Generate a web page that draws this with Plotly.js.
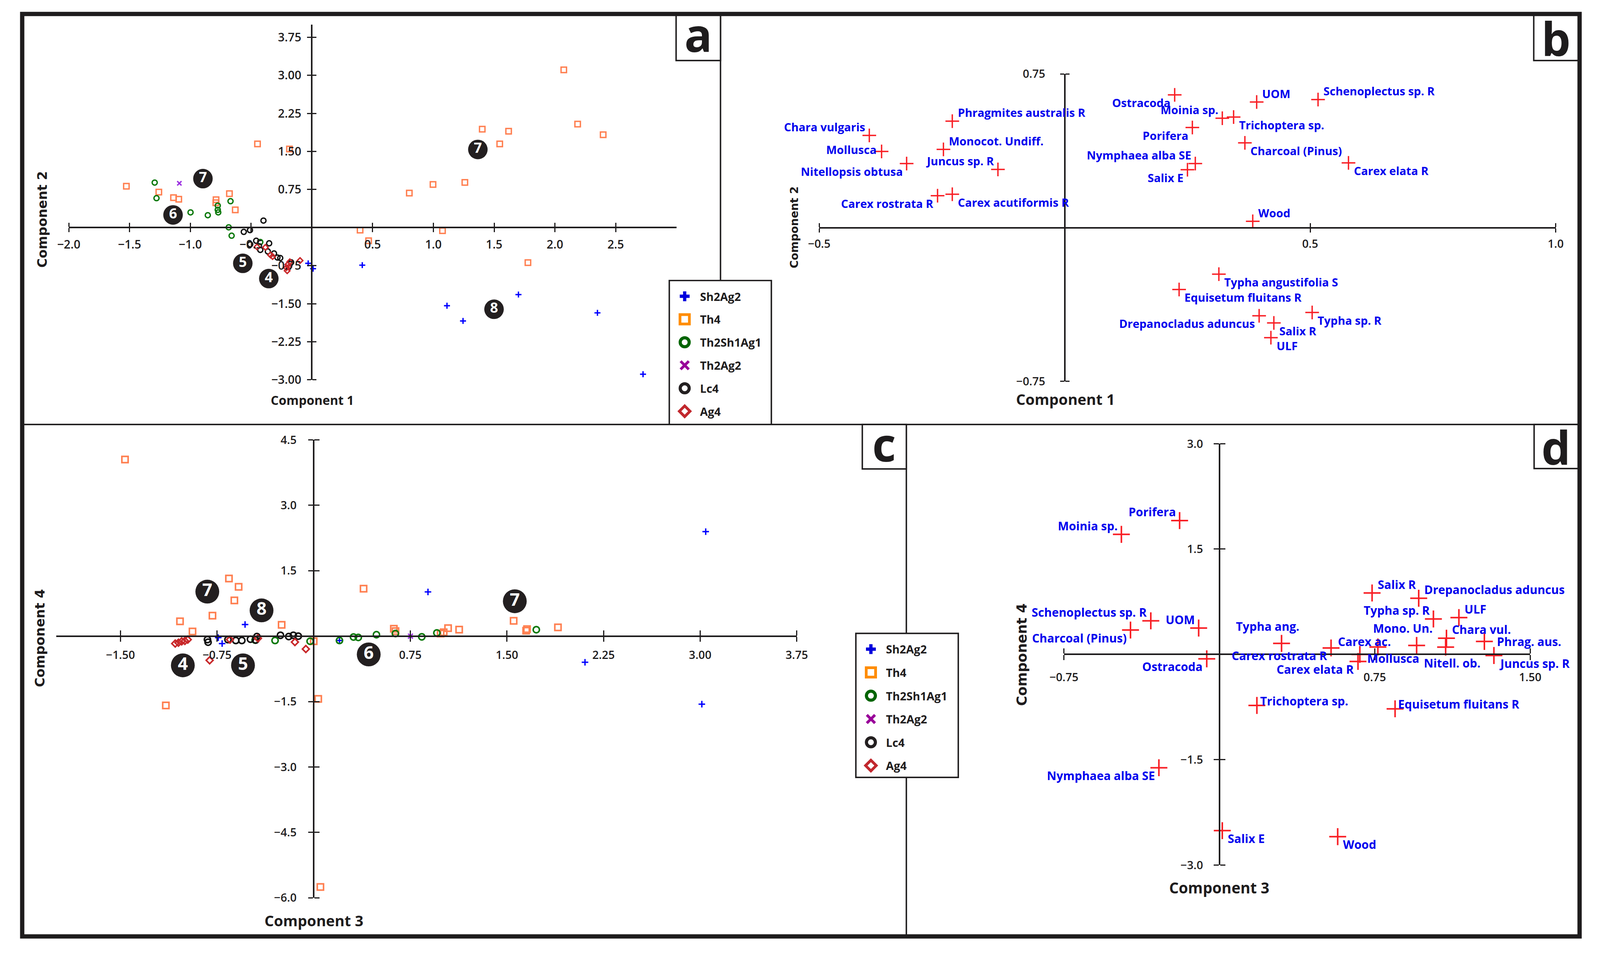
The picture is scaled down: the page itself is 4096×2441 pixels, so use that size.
<!DOCTYPE html>
<html><head><meta charset="utf-8">
<script src="https://cdn.plot.ly/plotly-3.0.1.min.js"></script>
<style>html,body{margin:0;padding:0;background:#fff;}#chart{width:4096px;height:2441px;}</style>
</head><body><div id="chart"></div>
<script>
// ================= DATA =================
const seriesNames = ['Sh2Ag2','Th4','Th2Sh1Ag1','Th2Ag2','Lc4','Ag4'];

// ---- Panel a : Component 1 (x) vs Component 2 (y) ----
const a_Sh2Ag2_x = [-0.03, 0.01, 0.415, 1.112, 1.244, 1.70, 2.35, 2.725];
const a_Sh2Ag2_y = [-0.705, -0.81, -0.74, -1.54, -1.84, -1.32, -1.68, -2.89];
const a_Th4_x = [2.073, 2.187, 2.397, 1.402, 1.619, 1.546, 1.259, 0.997, 0.802, 0.397, 1.075, 0.467, 1.778, -0.447, -0.184, -1.526, -1.259, -1.138, -1.095, -0.788, -0.79, -0.678, -0.63];
const a_Th4_y = [3.11, 2.04, 1.83, 1.94, 1.90, 1.65, 0.89, 0.85, 0.68, -0.05, -0.06, -0.26, -0.69, 1.65, 1.55, 0.816, 0.70, 0.59, 0.56, 0.55, 0.49, 0.67, 0.35];
const a_Th2Sh1Ag1_x = [-1.293, -1.278, -0.998, -0.856, -0.774, -0.774, -0.77, -0.669, -0.684, -0.66, -0.424];
const a_Th2Sh1Ag1_y = [0.887, 0.58, 0.30, 0.244, 0.433, 0.35, 0.30, 0.52, 0.005, -0.16, -0.285];
const a_Th2Ag2_x = [-1.09];
const a_Th2Ag2_y = [0.873];
const a_Lc4_x = [-0.398, -0.56, -0.509, -0.507, -0.458, -0.424, -0.351, -0.362, -0.311, -0.283, -0.26, -0.17];
const a_Lc4_y = [0.138, -0.085, -0.05, -0.33, -0.26, -0.44, -0.31, -0.47, -0.51, -0.59, -0.60, -0.685];
const a_Ag4_x = [-0.451, -0.382, -0.34, -0.323, -0.181, -0.198, -0.209, -0.203, -0.19, -0.097];
const a_Ag4_y = [-0.38, -0.39, -0.54, -0.57, -0.674, -0.73, -0.79, -0.85, -0.78, -0.65];
const a_groupLabels = ['7','6','5','4','7','8'];
const a_groupX = [-0.896, -1.142, -0.568, -0.354, 1.366, 1.499];
const a_groupY = [0.965, 0.25, -0.705, -1.005, 1.54, -1.61];

// ---- Panel c : Component 3 (x) vs Component 4 (y) ----
const c_Sh2Ag2_x = [-0.741, -0.711, -0.533, 0.2, 0.887, 2.106, 3.043, 3.013];
const c_Sh2Ag2_y = [-0.035, -0.17, 0.266, -0.1, 1.013, -0.60, 2.395, -1.56];
const c_Th4_x = [-1.465, -1.148, -1.038, -0.941, -0.786, -0.658, -0.583, -0.616, -0.249, 0.0, 0.035, 0.052, 0.387, 0.622, 0.635, 1.009, 1.043, 1.129, 0.985, 1.552, 1.649, 1.656, 1.896];
const c_Th4_y = [4.05, -1.59, 0.34, 0.107, 0.47, 1.32, 1.13, 0.82, 0.26, -0.117, -1.44, -5.75, 1.087, 0.17, 0.115, 0.088, 0.184, 0.15, 0.06, 0.35, 0.125, 0.16, 0.20];
const c_Th2Sh1Ag1_x = [-0.455, -0.3, -0.028, 0.2, 0.309, 0.346, 0.487, 0.634, 0.839, 0.956, 1.728];
const c_Th2Sh1Ag1_y = [-0.09, -0.1, -0.117, -0.1, -0.02, -0.03, 0.033, 0.06, -0.016, 0.074, 0.148];
const c_Th2Ag2_x = [0.751];
const c_Th2Ag2_y = [0.0];
const c_Lc4_x = [-0.825, -0.82, -0.666, -0.605, -0.558, -0.491, -0.441, -0.258, -0.194, -0.158, -0.12, -0.45];
const c_Lc4_y = [-0.08, -0.14, -0.08, -0.1, -0.1, -0.07, -0.01, 0.02, -0.01, 0.02, 0.0, -0.09];
const c_Ag4_x = [-1.075, -1.05, -1.025, -1.0, -0.978, -0.808, -0.65, -0.433, -0.146, -0.061];
const c_Ag4_y = [-0.17, -0.15, -0.12, -0.11, -0.08, -0.555, -0.08, -0.05, -0.136, -0.296];
const c_groupLabels = ['7','8','4','5','6','7'];
const c_groupX = [-0.826, -0.405, -1.016, -0.549, 0.427, 1.561];
const c_groupY = [1.02, 0.59, -0.67, -0.67, -0.42, 0.80];

// ---- Panel b : variable loadings, Component 1 vs Component 2 ----
const b_names = ['Ostracoda','UOM','Schenoplectus sp. R','Phragmites australis R','Moinia sp.','Trichoptera sp.','Porifera','Chara vulgaris','Monocot. Undiff.','Mollusca','Charcoal (Pinus)','Nymphaea alba SE','Salix E','Nitellopsis obtusa','Juncus sp. R','Carex elata R','Carex rostrata R','Carex acutiformis R','Wood','Typha angustifolia S','Equisetum fluitans R','Drepanocladus aduncus','Typha sp. R','Salix R','ULF'];
const b_x = [0.224, 0.391, 0.516, -0.229, 0.321, 0.344, 0.26, -0.398, -0.247, -0.373, 0.367, 0.266, 0.25, -0.322, -0.136, 0.578, -0.259, -0.229, 0.383, 0.314, 0.233, 0.396, 0.504, 0.426, 0.42];
const b_y = [0.648, 0.613, 0.625, 0.52, 0.534, 0.54, 0.489, 0.45, 0.382, 0.372, 0.414, 0.313, 0.283, 0.313, 0.284, 0.316, 0.156, 0.163, 0.031, -0.227, -0.302, -0.43, -0.414, -0.465, -0.537];

// ---- Panel d : variable loadings, Component 3 vs Component 4 ----
const d_names = ['Porifera','Moinia sp.','Salix R','Drepanocladus aduncus','Schenoplectus sp. R','UOM','Charcoal (Pinus)','Typha sp. R','ULF','Typha ang.','Carex rostrata R','Carex ac.','Mollusca','Carex elata R','Mono. Un.','Chara vul.','Nitell. ob.','Phrag. aus.','Juncus sp. R','Ostracoda','Trichoptera sp.','Equisetum fluitans R','Nymphaea alba SE','Salix E','Wood'];
const d_x = [-0.192, -0.473, 0.737, 0.962, -0.331, -0.1, -0.429, 1.033, 1.156, 0.30, 0.539, 0.765, 0.678, 0.669, 0.952, 1.096, 1.092, 1.279, 1.325, -0.061, 0.181, 0.848, -0.292, 0.014, 0.571];
const d_y = [1.906, 1.71, 0.875, 0.80, 0.478, 0.375, 0.347, 0.505, 0.524, 0.157, 0.092, 0.106, 0.0, -0.10, 0.128, 0.231, 0.104, 0.184, -0.016, -0.063, -0.727, -0.775, -1.614, -2.51, -2.596];

// ---- tick values ----
const a_xticks = [-2, -1.5, -1, -0.5, 0.5, 1, 1.5, 2, 2.5];
const a_yticks = [3.75, 3, 2.25, 1.5, 0.75, -0.75, -1.5, -2.25, -3];
const b_xticks = [-0.5, 0.5, 1.0];
const b_yticks = [0.75, -0.75];
const c_xticks = [-1.5, -0.75, 0.75, 1.5, 2.25, 3, 3.75];
const c_yticks = [4.5, 3, 1.5, -1.5, -3, -4.5, -6];
const d_xticks = [-0.75, 0.75, 1.5];
const d_yticks = [3, 1.5, -1.5, -3];

// ================= LAYOUT / STYLE =================
const RW = 4468, RH = 2663;            // reference pixel frame
const fx = p => p / RW;
const fy = p => 1 - p / RH;
const INK = '#1e1c1d';
const BLUE = '#0000ee';
const RED = '#f81e24';
const FONT = 'Open Sans';

// label placement codes (window px)
const OFF = {
  tl:{xa:'right', dx:-8,  dy:22}, tr:{xa:'left', dx:12, dy:22},
  bl:{xa:'right', dx:-8,  dy:-20}, br:{xa:'left', dx:12, dy:-20},
  ml:{xa:'right', dx:-11, dy:5},  mr:{xa:'left', dx:30, dy:0},
  ur:{xa:'left',  dx:6,   dy:12}, lr:{xa:'left', dx:17, dy:-10},
  tc:{xa:'center',dx:-36, dy:44}, tn:{xa:'center', dx:-34, dy:14},
  bc:{xa:'center', dx:17, dy:-41}
};
const b_pos = ['bl','tr','tr','tr','tl','br','bl','tl','tr','ml','br','tl','bl','bl','tl','br','bl','br','tr','br','br','bl','br','br','br'];
const d_pos = ['tl','tl','tr','tr','tl','tl','bl','tl','tr','tc','bl','tn','lr','bl','tc','tr','bc','mr','br','bl','ur','ur','bl','br','br'];

// panel geometry in reference pixels
const geom = {
  a:{xr:[-2,3], yr:[-3,4], x0:192, x1:1889, y0:1060.1, y1:68.9, xt:a_xticks, xf:'.1f', yt:a_yticks, yf:'.2f', tlo:10, tli:10, xso:6, yso:9, tfs:30},
  b:{xr:[-0.5,1], yr:[-0.75,0.75], x0:2287.7, x1:4344.2, y0:1064.5, y1:206.5, xt:b_xticks, xf:'.1f', yt:b_yticks, yf:'.2f', tlo:10, tli:10, xso:5, yso:32, tfs:29},
  c:{xr:[-2,3.75], yr:[-6,4.5], x0:156.6, x1:2225, y0:2506.2, y1:1227.8, xt:c_xticks, xf:'.2f', yt:c_yticks, yf:'.1f', tlo:12, tli:13, xso:10, yso:24, tfs:29},
  d:{xr:[-0.75,1.5], yr:[-3,3], x0:2971.2, x1:4273, y0:2414.7, y1:1238.7, xt:d_xticks, xf:'.2f', yt:d_yticks, yf:'.1f', tlo:13, tli:13, xso:19, yso:21, tfs:29}
};

const layout = {
  width:4096, height:2441, margin:{l:0,r:0,t:0,b:0,pad:0},
  paper_bgcolor:'#ffffff', plot_bgcolor:'rgba(0,0,0,0)',
  showlegend:false, font:{family:FONT, color:INK},
  shapes:[], annotations:[]
};

function addAxes(g, idx) {
  const sfx = idx === 1 ? '' : String(idx);
  const xd = [fx(g.x0), fx(g.x1)];
  const yd = [fy(g.y0), fy(g.y1)];
  const xPos = yd[0] + (0 - g.yr[0]) / (g.yr[1] - g.yr[0]) * (yd[1] - yd[0]);
  const yPos = xd[0] + (0 - g.xr[0]) / (g.xr[1] - g.xr[0]) * (xd[1] - xd[0]);
  const tf = {family:FONT, size:g.tfs, color:INK, weight:600};
  const base = {anchor:'free', showgrid:false, zeroline:false, showline:true, linecolor:INK, linewidth:4,
    ticks:'outside', tickcolor:INK, tickwidth:3, tickmode:'array', fixedrange:true, tickfont:tf, title:{text:''}};
  layout['xaxis' + sfx] = Object.assign({}, base, {domain:xd, range:g.xr, position:xPos, tickvals:g.xt, tickformat:g.xf,
    ticklen:g.tlo, ticklabelstandoff:g.xso,
    minor:{ticks:'inside', tickmode:'array', tickvals:g.xt.map(v => v + 1e-9), ticklen:g.tli, tickwidth:3, tickcolor:INK}});
  layout['yaxis' + sfx] = Object.assign({}, base, {domain:yd, range:g.yr, position:yPos, tickvals:g.yt, tickformat:g.yf,
    ticklen:g.tlo, ticklabelstandoff:g.yso,
    minor:{ticks:'inside', tickmode:'array', tickvals:g.yt.map(v => v + 1e-9), ticklen:g.tli, tickwidth:3, tickcolor:INK}});
  return {x:'x' + sfx, y:'y' + sfx};
}

const ax = {a:addAxes(geom.a,1), b:addAxes(geom.b,2), c:addAxes(geom.c,3), d:addAxes(geom.d,4)};

// ---- marker styles ----
const styleA = {
  Sh2Ag2:{symbol:'cross-thin-open', color:'#0000ff', size:11, lw:3.5},
  Th4:{symbol:'square-open', color:'#ff7f50', size:14, lw:3.5},
  Th2Sh1Ag1:{symbol:'circle-open', color:'#0a780a', size:13, lw:3.5},
  Th2Ag2:{symbol:'x-thin-open', color:'#9b30e0', size:11, lw:3.5},
  Lc4:{symbol:'circle-open', color:'#111111', size:13, lw:3.5},
  Ag4:{symbol:'diamond-open', color:'#c8282a', size:11, lw:3.5}
};
const styleC = {
  Sh2Ag2:{symbol:'cross-thin-open', color:'#0000ff', size:12, lw:3.5},
  Th4:{symbol:'square-open', color:'#ff7f50', size:16, lw:4},
  Th2Sh1Ag1:{symbol:'circle-open', color:'#0a780a', size:16, lw:4},
  Th2Ag2:{symbol:'x-thin-open', color:'#9b30e0', size:12.5, lw:3.5},
  Lc4:{symbol:'circle-open', color:'#111111', size:16, lw:4},
  Ag4:{symbol:'diamond-open', color:'#c8282a', size:13.5, lw:4}
};
const styleLegend = {
  Sh2Ag2:{symbol:'cross', color:'#0000dd', size:21, lw:0},
  Th4:{symbol:'square-open', color:'#ff8c00', size:24, lw:7},
  Th2Sh1Ag1:{symbol:'circle-open', color:'#006400', size:23, lw:8},
  Th2Ag2:{symbol:'x-thin-open', color:'#990099', size:21, lw:7},
  Lc4:{symbol:'circle-open', color:'#231f20', size:23, lw:8},
  Ag4:{symbol:'diamond-open', color:'#c1272d', size:21, lw:7}
};

const traces = [];
function markerOf(st) {
  return {symbol:st.symbol, color:st.color, size:st.size, line:{color:st.color, width:st.lw}};
}
function addSeries(prefix, st, axp) {
  const src = {a:{Sh2Ag2:[a_Sh2Ag2_x,a_Sh2Ag2_y], Th4:[a_Th4_x,a_Th4_y], Th2Sh1Ag1:[a_Th2Sh1Ag1_x,a_Th2Sh1Ag1_y], Th2Ag2:[a_Th2Ag2_x,a_Th2Ag2_y], Lc4:[a_Lc4_x,a_Lc4_y], Ag4:[a_Ag4_x,a_Ag4_y]},
               c:{Sh2Ag2:[c_Sh2Ag2_x,c_Sh2Ag2_y], Th4:[c_Th4_x,c_Th4_y], Th2Sh1Ag1:[c_Th2Sh1Ag1_x,c_Th2Sh1Ag1_y], Th2Ag2:[c_Th2Ag2_x,c_Th2Ag2_y], Lc4:[c_Lc4_x,c_Lc4_y], Ag4:[c_Ag4_x,c_Ag4_y]}}[prefix];
  seriesNames.forEach(n => {
    traces.push({type:'scatter', mode:'markers', name:n, x:src[n][0], y:src[n][1], xaxis:axp.x, yaxis:axp.y,
      marker:markerOf(st[n]), cliponaxis:false, hoverinfo:'skip'});
  });
}
addSeries('a', styleA, ax.a);
addSeries('c', styleC, ax.c);

function addGroups(lbl, xs, ys, axp, size, fs) {
  traces.push({type:'scatter', mode:'markers+text', x:xs, y:ys, text:lbl, xaxis:axp.x, yaxis:axp.y,
    textposition:'middle center', cliponaxis:false, hoverinfo:'skip',
    marker:{symbol:'circle', size:size, color:'#231f20', line:{width:0}},
    textfont:{family:FONT, size:fs, color:'#ffffff', weight:700}});
}
addGroups(a_groupLabels, a_groupX, a_groupY, ax.a, 50, 36);
addGroups(c_groupLabels, c_groupX, c_groupY, ax.c, 61, 45);

// loadings crosses
traces.push({type:'scatter', mode:'markers', x:b_x, y:b_y, xaxis:ax.b.x, yaxis:ax.b.y, cliponaxis:false, hoverinfo:'skip',
  marker:{symbol:'cross-thin-open', size:25, color:RED, line:{color:RED, width:3.5}}});
traces.push({type:'scatter', mode:'markers', x:d_x, y:d_y, xaxis:ax.d.x, yaxis:ax.d.y, cliponaxis:false, hoverinfo:'skip',
  marker:{symbol:'cross-thin-open', size:31, color:RED, line:{color:RED, width:4}}});

function labelAnns(names, xs, ys, pos, axp, fs) {
  names.forEach((t, i) => {
    const o = OFF[pos[i]];
    layout.annotations.push({xref:axp.x, yref:axp.y, x:xs[i], y:ys[i], text:t, showarrow:false,
      xanchor:o.xa, yanchor:'middle', xshift:o.dx, yshift:o.dy,
      font:{family:FONT, size:fs, color:BLUE, weight:700}});
  });
}
labelAnns(b_names, b_x, b_y, b_pos, ax.b, 29);
labelAnns(d_names, d_x, d_y, d_pos, ax.d, 30);

// ---- axis titles (placed at the axis origin, as in the reference) ----
function title(text, px, py, size, vertical) {
  layout.annotations.push({xref:'paper', yref:'paper', x:fx(px), y:fy(py), text:text, showarrow:false,
    xanchor:'center', yanchor:'middle', textangle:vertical ? -90 : 0,
    font:{family:vertical ? 'DejaVu Sans' : FONT, size:size, color:INK, weight:700}});
}
title('Component 1', 872, 1117, 32, false);
title('Component 2', 119, 613, 33, true);
title('Component 1', 2975, 1114, 38, false);
title('Component 2', 2218, 634, 28, true);
title('Component 3', 876, 2569, 38, false);
title('Component 4', 112, 1781, 33.5, true);
title('Component 3', 3404, 2478, 38.5, false);
title('Component 4', 2853, 1827, 35, true);

// ---- frame, dividers, panel letter boxes ----
function line(x0, y0, x1, y1, w) {
  layout.shapes.push({type:'line', xref:'paper', yref:'paper', x0:fx(x0), y0:fy(y0), x1:fx(x1), y1:fy(y1),
    line:{color:INK, width:w}, layer:'below'});
}
function rect(x0, y0, x1, y1, w, fill) {
  layout.shapes.push({type:'rect', xref:'paper', yref:'paper', x0:fx(x0), y0:fy(y0), x1:fx(x1), y1:fy(y1),
    line:{color:INK, width:w}, fillcolor:fill || 'rgba(0,0,0,0)', layer:'below'});
}
line(62, 1185, 4411, 1185, 3.7);
line(2012, 39, 2012, 1185, 3.7);
line(2531, 1185, 2531, 2614, 3.7);
rect(1888, 39, 2012, 169, 3.7, '#ffffff');
rect(4283, 39, 4411, 169, 3.7, '#ffffff');
rect(2408, 1185, 2531, 1309, 3.7, '#ffffff');
rect(4284, 1185, 4411, 1308, 3.7, '#ffffff');
rect(62, 39, 4411, 2614, 11, null);

const panelLetters = [['a',1950,104,8],['b',4345,106,0],['c',2469,1247,8],['d',4345,1247,0]];
panelLetters.forEach(p => {
  layout.annotations.push({xref:'paper', yref:'paper', x:fx(p[1]), y:fy(p[2]), text:p[0], showarrow:false,
    xanchor:'center', yanchor:'middle', yshift:p[3], font:{family:FONT, size:118, color:INK, weight:700}});
});

// ---- custom legends (one per sample panel) ----
function addLegend(box, firstY, stepY, markX, textX, idx) {
  rect(box[0], box[1], box[2], box[3], 3.7, '#ffffff');
  const sfx = String(idx);
  layout['xaxis' + sfx] = {domain:[fx(box[0]), fx(box[2])], range:[box[0], box[2]], visible:false, fixedrange:true, anchor:'y' + sfx};
  layout['yaxis' + sfx] = {domain:[fy(box[3]), fy(box[1])], range:[box[3], box[1]], visible:false, fixedrange:true, anchor:'x' + sfx};
  seriesNames.forEach((n, i) => {
    const yy = firstY + i * stepY;
    traces.push({type:'scatter', mode:'markers', x:[markX], y:[yy], xaxis:'x' + sfx, yaxis:'y' + sfx,
      marker:markerOf(styleLegend[n]), cliponaxis:false, hoverinfo:'skip'});
    layout.annotations.push({xref:'x' + sfx, yref:'y' + sfx, x:textX, y:yy, text:n, showarrow:false,
      xanchor:'left', yanchor:'middle', font:{family:FONT, size:29, color:INK, weight:700}});
  });
}
addLegend([1869, 783, 2154, 1185], 827, 64.2, 1912, 1953, 5);
addLegend([2390, 1768, 2676, 2170], 1812, 65, 2432, 2472, 6);

Plotly.newPlot('chart', traces, layout, {staticPlot:true, displayModeBar:false});
</script>
</body></html>
